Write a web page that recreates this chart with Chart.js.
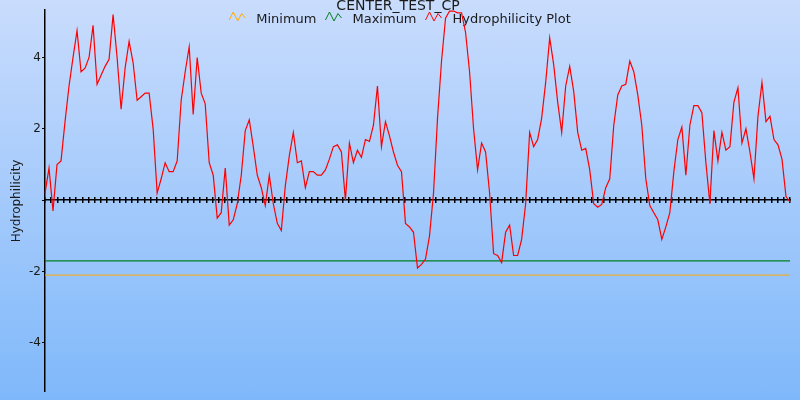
<!DOCTYPE html>
<html>
<head>
<meta charset="utf-8">
<script src="https://cdn.jsdelivr.net/npm/chart.js@4.4.1/dist/chart.umd.min.js"></script>
<style>
  html, body { margin: 0; padding: 0; }
  #wrap { width: 800px; height: 400px; background: linear-gradient(#c9dcfd, #7fb8fa); }
</style>
</head>
<body>
<div id="wrap"><canvas id="hydroChart" width="800" height="400"></canvas></div>
<script>
// Chart text
const chartTitle = 'CENTER_TEST_CP';
const yAxisTitle = 'Hydrophilicity';
const seriesNames = ['Minimum', 'Maximum', 'Hydrophilicity Plot'];

// Hydrophilicity values (one every few residues)
const hydroValues = [
    0.2, 0.9, -0.3, 1.0, 1.1, 2.2, 3.2, 4.0, 4.75, 3.6,
    3.7, 4.0, 4.9, 3.25, 3.5, 3.75, 3.95, 5.2, 4.0, 2.55,
    3.7, 4.45, 3.85, 2.8, 2.9, 3.0, 3.0, 2.0, 0.2, 0.6,
    1.05, 0.8, 0.8, 1.1, 2.8, 3.6, 4.3, 2.4, 4.0, 3.0,
    2.7, 1.05, 0.7, -0.5, -0.35, 0.9, -0.7, -0.55, -0.1, 0.7,
    1.95, 2.25, 1.5, 0.7, 0.35, -0.15, 0.7, -0.1, -0.65, -0.85,
    0.4, 1.25, 1.9, 1.05, 1.1, 0.35, 0.8, 0.8, 0.7, 0.7,
    0.85, 1.15, 1.5, 1.55, 1.35, 0.0, 1.6, 1.05, 1.4, 1.2,
    1.7, 1.65, 2.1, 3.2, 1.5, 2.2, 1.8, 1.35, 0.98, 0.8,
    -0.65, -0.75, -0.9, -1.9, -1.8, -1.65, -1.0, 0.2, 2.3, 3.9,
    5.1, 5.3, 5.3, 5.25, 5.25, 4.7, 3.6, 2.0, 0.85, 1.6,
    1.35, 0.2, -1.5, -1.55, -1.75, -0.9, -0.7, -1.55, -1.55, -1.1,
    -0.1, 1.9, 1.5, 1.7, 2.3, 3.3, 4.55, 3.8, 2.75, 1.9,
    3.2, 3.75, 3.05, 1.9, 1.4, 1.45, 0.85, -0.1, -0.2, -0.12,
    0.35, 0.6, 2.1, 2.95, 3.2, 3.25, 3.9, 3.6, 2.95, 2.1,
    0.6, -0.15, -0.35, -0.55, -1.1, -0.75, -0.35, 0.8, 1.7, 2.05,
    0.7, 2.1, 2.65, 2.65, 2.45, 1.05, -0.1, 1.95, 1.1, 1.9,
    1.4, 1.5, 2.75, 3.15, 1.6, 2.0, 1.35, 0.6, 2.35, 3.3,
    2.2, 2.35, 1.7, 1.55, 1.15, 0.1, -0.05
];

// Positions along the sequence (categories)
const positions = hydroValues.map((_, i) => String(i + 1));

// Threshold levels
const minimumLevel = -2.1;
const maximumLevel = -1.7;

// Y axis
const yMin = -5.37;
const yMax = 5.33;
const yStep = 2;

// residue ticks on the zero line
const residueCount = 360;
const residueTickEvery = 3;

const colors = {
    minimum: '#ffaa00',
    maximum: '#007f1f',
    hydro: '#ff0000',
    text: '#1a1a1a'
};

Chart.defaults.font.family = '"DejaVu Sans", sans-serif';
Chart.defaults.color = colors.text;

// Title and legend sit inside the top of the plot, like the original
const headerPlugin = {
    id: 'header',
    beforeDatasetsDraw(chart) {
        const ctx = chart.ctx;
        ctx.save();
        ctx.fillStyle = colors.text;
        ctx.textBaseline = 'alphabetic';
        ctx.textAlign = 'center';
        ctx.font = '14px "DejaVu Sans"';
        ctx.fillText(chartTitle, chart.width / 2 - 2, 9.5);

        ctx.font = '13px "DejaVu Sans"';
        ctx.textAlign = 'left';
        const symW = 17, symGap = 10, itemGap = 9;
        const items = chart.data.datasets.map(ds => ({
            text: ds.label,
            color: ds.borderColor,
            w: ctx.measureText(ds.label).width
        }));
        let total = 0;
        items.forEach((it, i) => {
            total += symW + symGap + it.w + (i < items.length - 1 ? itemGap : 0);
        });
        let x = chart.width / 2 - total / 2;
        const base = 22.5;
        items.forEach(it => {
            // little zigzag marker
            ctx.strokeStyle = it.color;
            ctx.lineWidth = 1;
            ctx.beginPath();
            ctx.moveTo(x, 20);
            ctx.lineTo(x + 4, 12);
            ctx.lineTo(x + 8.5, 21);
            ctx.lineTo(x + 12.5, 13.5);
            ctx.lineTo(x + 16, 18);
            ctx.stroke();
            x += symW + symGap;
            ctx.fillText(it.text, x, base);
            x += it.w + itemGap;
        });
        ctx.restore();
    }
};

const ctxHydro = document.getElementById('hydroChart').getContext('2d');
const hydroChart = new Chart(ctxHydro, {
    type: 'line',
    data: {
        labels: positions,
        datasets: [{
            label: seriesNames[0],
            data: [
                { x: positions[0], y: minimumLevel },
                { x: positions[positions.length - 1], y: minimumLevel }
            ],
            borderColor: colors.minimum,
            borderWidth: 1,
            pointRadius: 0,
            order: 2
        }, {
            label: seriesNames[1],
            data: [
                { x: positions[0], y: maximumLevel },
                { x: positions[positions.length - 1], y: maximumLevel }
            ],
            borderColor: colors.maximum,
            borderWidth: 1.3,
            pointRadius: 0,
            order: 1
        }, {
            label: seriesNames[2],
            data: hydroValues,
            borderColor: colors.hydro,
            borderWidth: 1.2,
            pointRadius: 0,
            tension: 0,
            order: 0
        }]
    },
    options: {
        responsive: false,
        animation: false,
        layout: {
            padding: { top: 10, right: 10, bottom: 7, left: 0 }
        },
        plugins: {
            legend: { display: false },
            title: { display: false },
            tooltip: { enabled: false }
        },
        scales: {
            x: {
                type: 'category',
                position: { y: 0 },
                offset: false,
                ticks: { display: false },
                grid: { drawOnChartArea: false, drawTicks: false },
                border: { display: true, color: '#000', width: 1.5 }
            },
            residues: {
                type: 'linear',
                axis: 'x',
                position: { y: 0.085 },
                min: 0,
                max: residueCount,
                ticks: { display: false, stepSize: residueTickEvery, autoSkip: false },
                grid: { drawOnChartArea: false, tickLength: 6, color: '#000', lineWidth: 1.5 },
                border: { display: false }
            },
            y: {
                min: yMin,
                max: yMax,
                ticks: {
                    stepSize: yStep,
                    includeBounds: false,
                    padding: 1,
                    font: { size: 12 },
                    color: colors.text,
                    callback: v => (v === 0 ? '' : v)
                },
                grid: { drawOnChartArea: false, tickLength: 3, color: '#000', lineWidth: 1 },
                border: { display: true, color: '#000', width: 1.5 },
                title: {
                    display: true,
                    text: yAxisTitle,
                    font: { size: 12 },
                    color: colors.text,
                    padding: { top: 9.5, bottom: 0 }
                },
                afterFit: scale => { scale.width = 45; }
            }
        }
    },
    plugins: [headerPlugin]
});
</script>
</body>
</html>
